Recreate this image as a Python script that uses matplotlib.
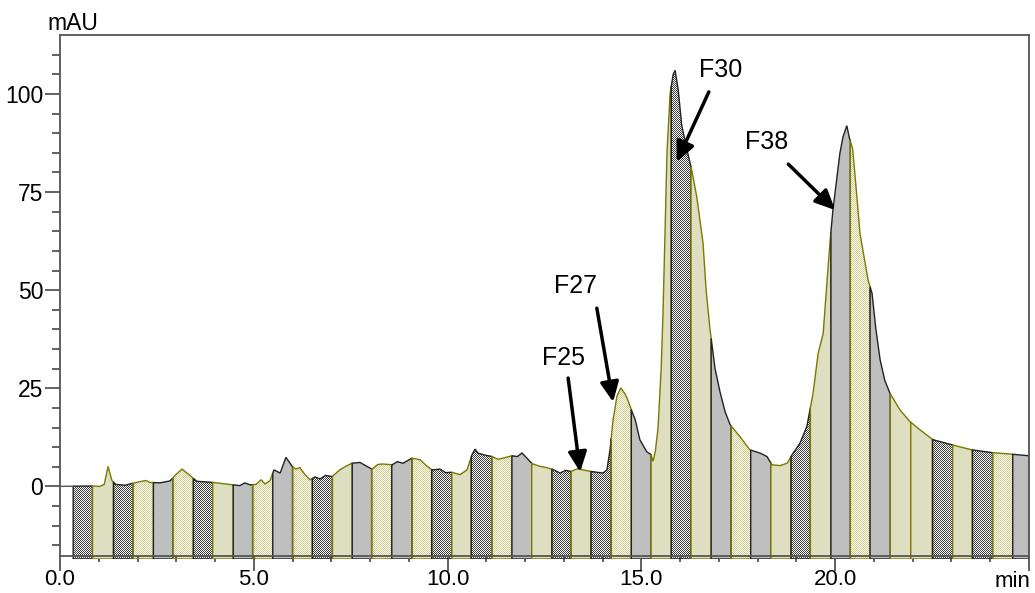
import numpy as np
import matplotlib.pyplot as plt
from matplotlib.patches import Polygon

plt.rcParams['font.family'] = ['Liberation Sans', 'DejaVu Sans']

# chromatogram trace (min, mAU)
time = [0.00, 0.77, 1.03, 1.14, 1.24, 1.34, 1.44, 1.68, 1.88, 2.06, 2.22, 2.32,
        2.58, 2.84, 2.99, 3.15, 3.30, 3.53, 3.95, 4.46, 4.64, 4.77, 4.90, 5.06,
        5.19, 5.29, 5.42, 5.52, 5.68, 5.83, 5.99, 6.08, 6.19, 6.32, 6.45, 6.58,
        6.71, 6.85, 7.02, 7.22, 7.35, 7.53, 7.74, 7.90, 8.05, 8.20, 8.33, 8.57,
        8.70, 8.85, 9.08, 9.29, 9.45, 9.60, 9.80, 9.95, 10.11, 10.32, 10.50,
        10.63, 10.71, 10.78, 10.95, 11.15, 11.30, 11.43, 11.66, 11.80, 11.92,
        12.18, 12.38, 12.55, 12.69, 12.90, 13.05, 13.18, 13.35, 13.49, 13.70,
        13.85, 14.01, 14.11, 14.19, 14.27, 14.37, 14.47, 14.58, 14.65, 14.76,
        14.84, 14.96, 15.14, 15.25, 15.30, 15.36, 15.43, 15.51, 15.56, 15.61,
        15.66, 15.74, 15.82, 15.87, 15.95, 16.04, 16.17, 16.30, 16.43, 16.59,
        16.67, 16.77, 16.90, 17.03, 17.16, 17.29, 17.54, 17.80, 18.06, 18.24,
        18.37, 18.58, 18.76, 18.89, 19.09, 19.27, 19.43, 19.56, 19.69, 19.81,
        19.87, 19.94, 20.12, 20.20, 20.30, 20.36, 20.45, 20.54, 20.64, 20.85,
        20.95, 21.05, 21.16, 21.28, 21.41, 21.67, 21.93, 22.19, 22.52, 23.01,
        23.53, 24.05, 24.56, 25.00]
signal = [0.0, 0.1, 0.0, 0.5, 5.1, 1.5, 0.5, 0.3, 0.8, 1.2, 1.5, 1.0,
          0.9, 1.4, 3.0, 4.4, 3.2, 1.3, 1.0, 0.4, 0.2, 0.9, 0.4, 0.5,
          1.7, 0.6, 1.5, 4.2, 3.4, 7.4, 5.1, 4.4, 4.8, 3.0, 1.7, 2.4,
          1.9, 2.8, 2.5, 4.2, 5.0, 5.9, 6.1, 5.2, 4.4, 5.6, 5.7, 5.5,
          6.3, 5.9, 7.2, 6.8, 5.3, 4.2, 4.4, 3.5, 3.6, 3.0, 4.2,
          8.1, 9.5, 8.5, 8.0, 7.6, 6.9, 7.2, 7.8, 7.6, 8.5,
          5.8, 5.1, 4.8, 4.4, 3.4, 4.1, 3.8, 4.5, 4.2, 3.8,
          3.6, 3.4, 4.2, 9.3, 17.0, 23.0, 25.1, 23.5, 22.0, 19.0,
          17.0, 11.9, 8.8, 8.1, 6.4, 9.0, 15.0, 30.0, 45.0, 65.0,
          85.0, 100.0, 105.0, 106.0, 101.0, 92.0, 86.0, 80.5, 73.7, 62.0,
          50.0, 40.0, 30.0, 24.0, 19.0, 15.7, 12.7, 9.3, 8.5, 7.6,
          5.5, 5.3, 5.9, 8.1, 11.0, 15.3, 23.8, 33.9, 39.0, 55.0,
          62.7, 70.3, 84.8, 89.0, 91.9, 89.0, 86.0, 76.0, 64.4, 52.5,
          49.2, 40.0, 32.2, 27.0, 23.8, 19.5, 16.5, 14.4, 11.9, 10.6,
          9.3, 8.6, 8.2, 7.8]

# fraction boundaries (min)
frac_edges = [0.34, 0.84, 1.38, 1.88, 2.41, 2.91, 3.44, 3.94, 4.47, 4.97,
              5.49, 6.00, 6.51, 7.03, 7.54, 8.04, 8.56, 9.08, 9.59, 10.11,
              10.61, 11.14, 11.66, 12.17, 12.69, 13.19, 13.70, 14.22, 14.74,
              15.25, 15.77, 16.28, 16.80, 17.31, 17.82, 18.34, 18.86, 19.36,
              19.89, 20.39, 20.90, 21.42, 21.95, 22.51, 23.03, 23.54, 24.06,
              24.58, 25.00]
# C = checker, B = beige, G = gray, D = dotted yellow
frac_styles = ("CBCDGDCBGD" "GDCBGDGDCB" "CDGBCBCDGB"
               "CBGDGBCBGD" "GBBCBCDG")

labels = ["F25", "F27", "F30", "F38"]
label_pos = [(12.98, 32.7), (13.31, 51.0), (17.05, 106.1), (18.24, 87.7)]
arrow_tail = [(13.11, 27.6), (13.85, 45.4), (16.74, 100.5), (18.79, 82.1)]
arrow_tip = [(13.42, 3.7), (14.27, 21.5), (15.91, 82.7), (20.00, 70.4)]

ymin, ymax = -18.5, 115
W, H = 1035, 593
fig = plt.figure(figsize=(W / 100, H / 100), dpi=100)
ax = fig.add_axes([60 / W, 34 / H, 969 / W, 524 / H])

# pixel checker textures
nx, ny = 969, 524
chk = np.indices((ny, nx)).sum(axis=0) % 2
tex = {}
a_col, b_col = np.array([60, 60, 60]), np.array([255, 255, 255])
tex['C'] = np.where(chk[..., None] == 1, a_col, b_col).astype(np.uint8)
a_col, b_col = np.array([206, 206, 150]), np.array([252, 252, 238])
tex['D'] = np.where(chk[..., None] == 1, a_col, b_col).astype(np.uint8)

face = {'B': '#dedec0', 'G': '#bfbfbf'}
edge = {'C': '#222222', 'G': '#222222', 'B': '#7a7a00', 'D': '#7a7a00'}

t = np.array(time)
s = np.array(signal)
for i, st in enumerate(frac_styles):
    a, b = frac_edges[i], frac_edges[i + 1]
    inner = t[(t > a) & (t < b)]
    xs = np.concatenate([[a], inner, [b]])
    ys = np.interp(xs, t, s)
    verts = [(a, ymin)] + list(zip(xs, ys)) + [(b, ymin)]
    if st in tex:
        poly = Polygon(verts, closed=True, facecolor='none',
                       edgecolor=edge[st], lw=1.0, zorder=2)
        ax.add_patch(poly)
        im = ax.imshow(tex[st], extent=(0, 25, ymin, ymax), aspect='auto',
                       interpolation='nearest', zorder=1)
        im.set_clip_path(poly)
    else:
        poly = Polygon(verts, closed=True, facecolor=face[st],
                       edgecolor=edge[st], lw=1.0, zorder=2)
        ax.add_patch(poly)

pre = t <= frac_edges[0]
ax.plot(np.append(t[pre], frac_edges[0]),
        np.append(s[pre], np.interp(frac_edges[0], t, s)),
        color='#555555', lw=1.0, zorder=2)

ax.set_xlim(0, 25)
ax.set_ylim(ymin, ymax)

for sp in ax.spines.values():
    sp.set_color('#555555')
    sp.set_linewidth(1.3)
    sp.set_zorder(3)
ax.spines['bottom'].set_position(('data', -17.8))
ax.spines['left'].set_bounds(-17.8, ymax)
ax.spines['right'].set_bounds(-17.8, ymax)

ax.set_xticks([0, 5, 10, 15, 20, 25])
ax.set_xticklabels(['0.0', '5.0', '10.0', '15.0', '20.0', ''])
ax.set_xticks(np.arange(0, 25, 1), minor=True)
ax.set_yticks([0, 25, 50, 75, 100])
ax.set_yticks(np.arange(-15, 115, 5), minor=True)
ax.tick_params(axis='both', which='major', direction='out', length=11,
               width=1.3, color='#555555', labelsize=16.5)
ax.tick_params(axis='both', which='minor', direction='out', length=6,
               width=1.3, color='#555555')
ax.tick_params(axis='x', which='major', pad=-2, labelsize=16)
ax.tick_params(axis='y', which='major', pad=1)
ax.tick_params(axis='x', which='minor', length=4)

fig.text(1030 / W, 1 - 587 / H, 'min', ha='right', va='baseline', fontsize=16)
fig.text(47 / W, 1 - 30 / H, 'mAU', ha='left', va='baseline', fontsize=16.5)

for lab, p, tail, tip in zip(labels, label_pos, arrow_tail, arrow_tip):
    ax.text(p[0], p[1], lab, ha='center', va='center', fontsize=18, zorder=5)
    ax.annotate('', xy=tip, xytext=tail,
                arrowprops=dict(arrowstyle='-|>,head_length=0.75,head_width=0.35',
                                mutation_scale=16, lw=2.5, color='black',
                                shrinkA=0, shrinkB=0), zorder=5)

fig.savefig('out.png', dpi=100)
